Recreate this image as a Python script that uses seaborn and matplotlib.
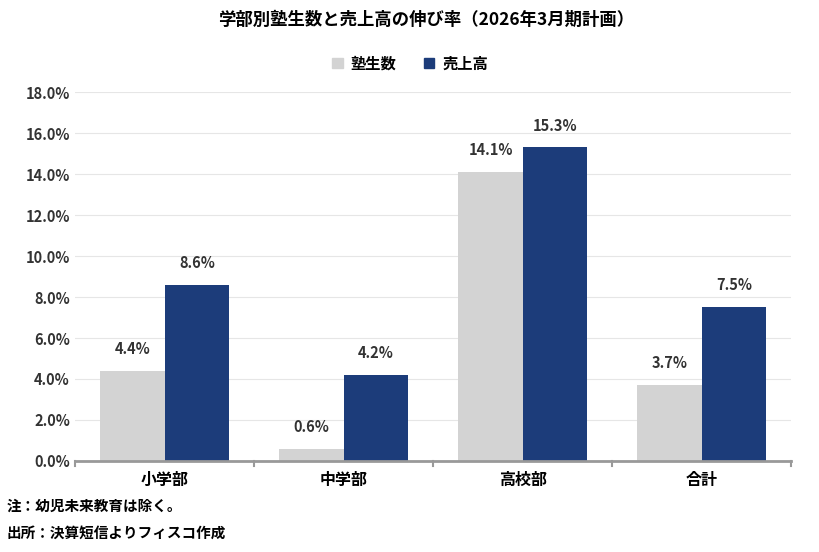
import matplotlib.pyplot as plt
import seaborn as sns
import pandas as pd

plt.rcParams['font.family'] = 'Noto Sans CJK JP'

categories = ['小学部', '中学部', '高校部', '合計']
students = [4.4, 0.6, 14.1, 3.7]
sales = [8.6, 4.2, 15.3, 7.5]
series = ['塾生数', '売上高']

df = pd.DataFrame({
    'cat': categories * 2,
    'series': [series[0]] * 4 + [series[1]] * 4,
    'val': students + sales,
})

fig = plt.figure(figsize=(8.2, 5.52), dpi=100)
ax = fig.add_axes([0.092, 0.165, 0.873, 0.668])
sns.barplot(data=df, x='cat', y='val', hue='series', order=categories,
            hue_order=series, palette=['#d3d3d3', '#1c3c7a'], width=0.72,
            gap=0, saturation=1, ax=ax, legend=False)

for cont in ax.containers:
    ax.bar_label(cont, fmt='%.1f%%', padding=10, fontsize=10.5,
                 fontweight='bold', color='#333333')

ax.set_ylim(0, 18)
ax.set_yticks(range(0, 19, 2))
ax.set_yticklabels([f'{v:.1f}%' for v in range(0, 19, 2)], fontsize=10.5,
                   fontweight='bold', color='#333333')
ax.tick_params(axis='x', labelsize=11.5, length=0, pad=8)
for t in ax.get_xticklabels():
    t.set_fontweight('bold')
ax.tick_params(axis='y', length=0, pad=4)
ax.set_xlabel('')
ax.set_ylabel('')
ax.grid(axis='y', color='#e6e6e6', linewidth=0.8)
ax.set_axisbelow(True)
for s in ['top', 'right', 'left']:
    ax.spines[s].set_visible(False)
ax.spines['bottom'].set_color('#999999')
ax.spines['bottom'].set_linewidth(2)
ax.set_xlim(-0.5, 3.5)
for x in [-0.5, 0.5, 1.5, 2.5, 3.5]:
    ax.plot([x, x], [0, -0.25], color='#999999', lw=1.5, clip_on=False)

fig.text(0.52, 0.955, '学部別塾生数と売上高の伸び率（2026年3月期計画）',
         ha='center', fontsize=12.5, fontweight='bold')
handles = [plt.Rectangle((0, 0), 1, 1, color=c) for c in ['#d3d3d3', '#1c3c7a']]
fig.legend(handles, series, loc='center', bbox_to_anchor=(0.5, 0.885), ncol=2,
           frameon=False, prop={'weight': 'bold', 'size': 11},
           handlelength=0.7, handleheight=0.7, columnspacing=1.8, handletextpad=0.5)
fig.text(0.008, 0.075, '注：幼児未来教育は除く。', fontsize=10.5, fontweight='bold')
fig.text(0.008, 0.025, '出所：決算短信よりフィスコ作成', fontsize=10.5, fontweight='bold')

fig.savefig('out.png', dpi=100)
